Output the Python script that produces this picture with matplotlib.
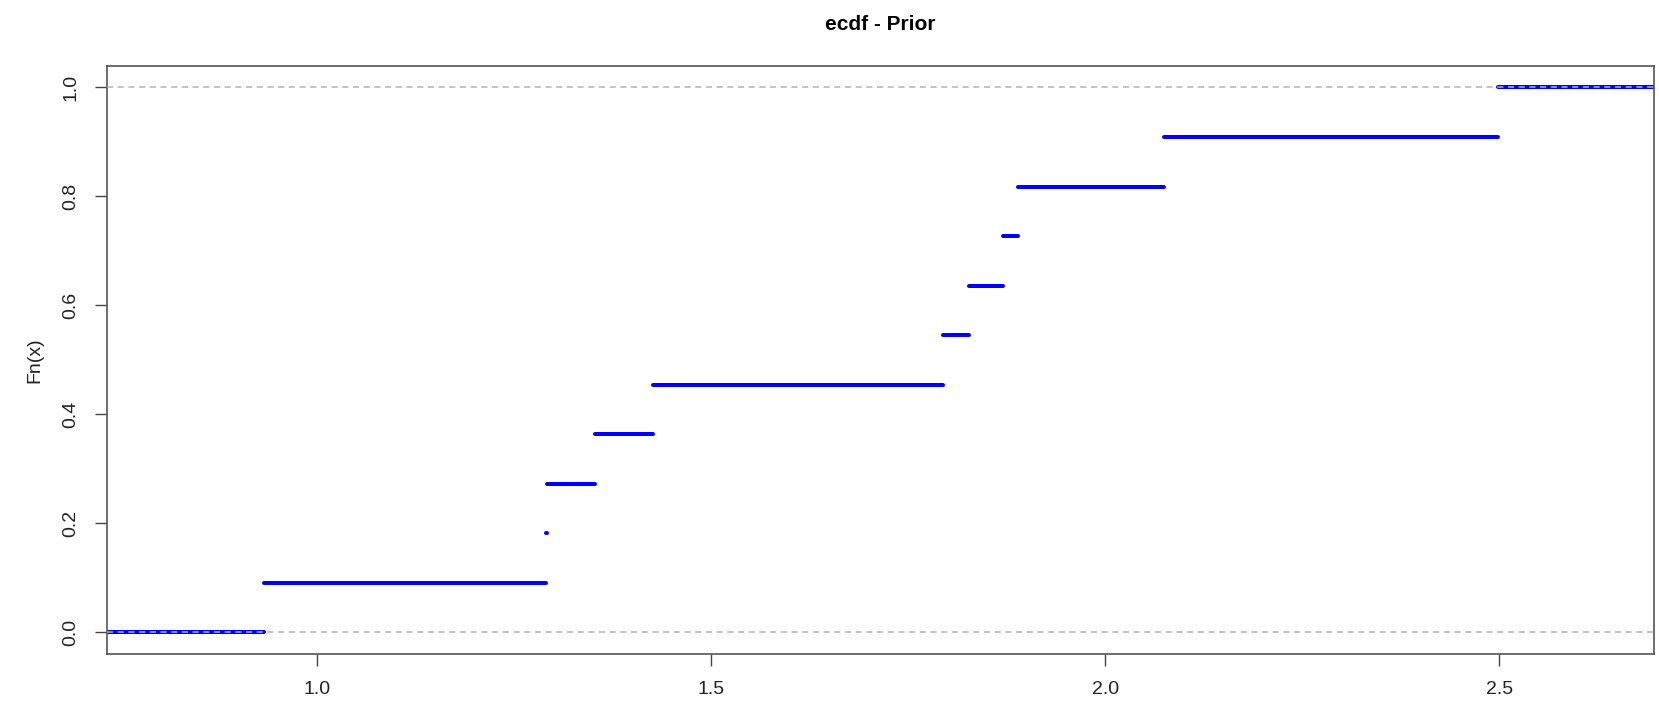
import numpy as np
import matplotlib.pyplot as plt

# sorted sample values behind the empirical CDF
campione = [0.932, 1.2906, 1.2920, 1.352, 1.426, 1.794, 1.8275, 1.8706, 1.889, 2.0746, 2.499]
titolo = "ecdf - Prior"
tick_x = [1.0, 1.5, 2.0, 2.5]
tick_y = [0.0, 0.2, 0.4, 0.6, 0.8, 1.0]

plt.rcParams['font.family'] = ['Liberation Sans', 'DejaVu Sans']

x = np.sort(np.array(campione))
n = len(x)
xlim = (0.733, 2.696)

fig = plt.figure(figsize=(16.59, 7.04), dpi=100)
ax = fig.add_axes([0.0643, 0.071, 0.9325, 0.8357])

# gradini orizzontali della funzione a scala
inizio = np.concatenate([[xlim[0] - 1], x])
fine = np.concatenate([x, [xlim[1] + 1]])
livelli = np.arange(n + 1) / n
seg = ax.hlines(livelli, inizio, fine, colors='#0000ff', linewidth=2.9)
seg.set_capstyle('round')

# linee tratteggiate a 0 e 1 sopra i gradini
for h in (0, 1):
    ax.axhline(h, color='#b3b3b3', linestyle=(0, (4, 3)), linewidth=1.1, zorder=3)

ax.set_xlim(*xlim)
ax.set_ylim(-0.04, 1.04)
ax.set_xticks(tick_x)
ax.set_xticklabels(['%.1f' % v for v in tick_x])
ax.set_yticks(tick_y)
ax.set_yticklabels(['%.1f' % v for v in tick_y], rotation=90, va='center')
ax.tick_params(axis='both', length=8.4, width=1, color='#444444', labelsize=14, labelcolor='#222222')
ax.tick_params(axis='x', pad=11)
ax.tick_params(axis='y', pad=11)
for s in ax.spines.values():
    s.set_color('#555555')
    s.set_linewidth(1.2)

ax.set_ylabel('Fn(x)', fontsize=14, labelpad=14, color='#222222')
ax.set_title(titolo, fontsize=15, fontweight='bold', pad=26)

fig.savefig('out.png', dpi=100)
